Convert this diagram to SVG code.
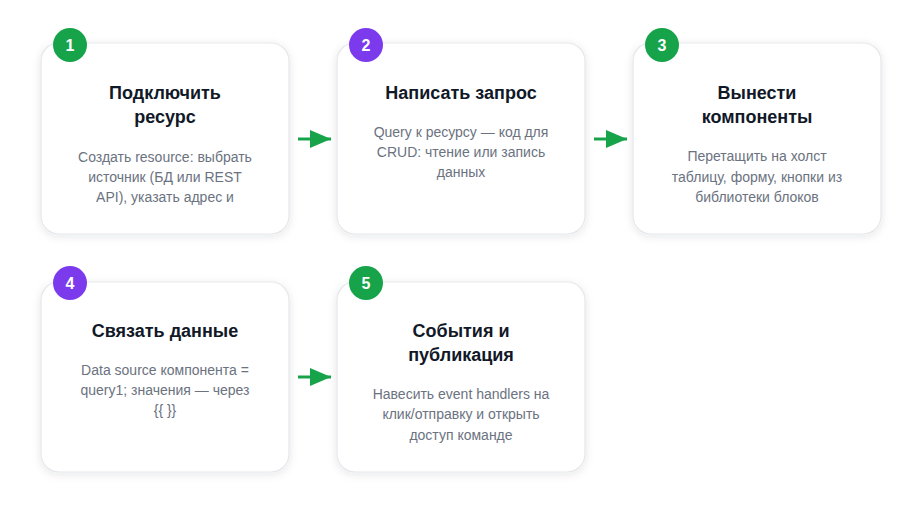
<svg xmlns="http://www.w3.org/2000/svg" width="922" height="516" viewBox="0 0 922 516">
<defs>
<filter id="sh" x="-20%" y="-20%" width="140%" height="140%">
<feDropShadow dx="0" dy="2" stdDeviation="4" flood-color="#1f2937" flood-opacity="0.10"/>
</filter>
<marker id="ah" markerWidth="21" markerHeight="18" refX="21" refY="9" orient="auto" markerUnits="userSpaceOnUse">
<path d="M0,0 L21,9 L0,18 Z" fill="#16a34a"/>
</marker>
</defs>
<style>
.card{fill:#ffffff;stroke:#e5e7eb;stroke-width:1.2;filter:url(#sh)}
.t{font-family:"Liberation Sans",Arial,sans-serif;font-size:18px;font-weight:bold;fill:#111827;text-anchor:middle}
.d{font-family:"Liberation Sans",Arial,sans-serif;font-size:14px;fill:#6b7280;text-anchor:middle}
.n{font-family:"Liberation Sans",Arial,sans-serif;font-size:16px;font-weight:bold;fill:#ffffff;text-anchor:middle}
.g{fill:#16a34a}
.p{fill:#7c3aed}
.c{stroke:#16a34a;stroke-width:3;fill:none;marker-end:url(#ah)}
</style>
<rect width="922" height="516" fill="#ffffff"/>
<g id="connectors">
<line class="c" x1="298" y1="139" x2="331" y2="139"/>
<line class="c" x1="594" y1="139" x2="627" y2="139"/>
<line class="c" x1="298" y1="377" x2="331" y2="377"/>
</g>
<g id="node1">
<rect class="card" x="41" y="43" width="248" height="191" rx="18"/>
<circle class="g" cx="70" cy="45" r="17"/>
<text class="n" x="70" y="51">1</text>
<text class="t" x="165" y="99">Подключить</text>
<text class="t" x="165" y="123">ресурс</text>
<text class="d" x="165" y="162">Создать resource: выбрать</text>
<text class="d" x="165" y="182">источник (БД или REST</text>
<text class="d" x="165" y="202">API), указать адрес и</text>
</g>
<g id="node2">
<rect class="card" x="337" y="43" width="248" height="191" rx="18"/>
<circle class="p" cx="366" cy="45" r="17"/>
<text class="n" x="366" y="51">2</text>
<text class="t" x="461" y="99">Написать запрос</text>
<text class="d" x="461" y="137">Query к ресурсу — код для</text>
<text class="d" x="461" y="157">CRUD: чтение или запись</text>
<text class="d" x="461" y="177">данных</text>
</g>
<g id="node3">
<rect class="card" x="633" y="43" width="248" height="191" rx="18"/>
<circle class="g" cx="662" cy="45" r="17"/>
<text class="n" x="662" y="51">3</text>
<text class="t" x="757" y="99">Вынести</text>
<text class="t" x="757" y="123">компоненты</text>
<text class="d" x="757" y="161">Перетащить на холст</text>
<text class="d" x="757" y="182">таблицу, форму, кнопки из</text>
<text class="d" x="757" y="202">библиотеки блоков</text>
</g>
<g id="node4">
<rect class="card" x="41" y="282" width="248" height="190" rx="18"/>
<circle class="p" cx="70" cy="283" r="17"/>
<text class="n" x="70" y="289">4</text>
<text class="t" x="165" y="337">Связать данные</text>
<text class="d" x="165" y="375">Data source компонента =</text>
<text class="d" x="165" y="395">query1; значения — через</text>
<text class="d" x="165" y="415">{{ }}</text>
</g>
<g id="node5">
<rect class="card" x="337" y="282" width="248" height="190" rx="18"/>
<circle class="g" cx="366" cy="283" r="17"/>
<text class="n" x="366" y="289">5</text>
<text class="t" x="461" y="337">События и</text>
<text class="t" x="461" y="361">публикация</text>
<text class="d" x="461" y="399">Навесить event handlers на</text>
<text class="d" x="461" y="419">клик/отправку и открыть</text>
<text class="d" x="461" y="440">доступ команде</text>
</g>
</svg>
